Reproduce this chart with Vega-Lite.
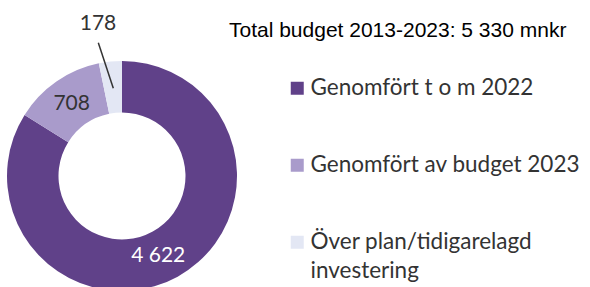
{
  "$schema": "https://vega.github.io/schema/vega-lite/v6.json",
  "width": 244,
  "height": 352,
  "autosize": "none",
  "padding": {"left": 0, "top": 0, "right": 346, "bottom": 0},
  "background": "white",
  "title": {
    "text": "Total budget 2013-2023: 5 330 mnkr",
    "anchor": "start",
    "frame": "group",
    "orient": "top",
    "offset": 0,
    "dx": 229,
    "dy": 58,
    "baseline": "alphabetic",
    "font": "Liberation Sans",
    "fontSize": 21,
    "fontWeight": "normal",
    "color": "#000000"
  },
  "config": {"view": {"stroke": null}},
  "datasets": {
    "slices": [
      {"category": "Genomfört t o m 2022", "value": 4622, "label": "4 622", "i": 1},
      {"category": "Genomfört av budget 2023", "value": 708, "label": "708", "i": 2},
      {"category": "Över plan/tidigarelagd investering", "value": 178, "label": "178", "i": 3}
    ],
    "leader": [
      {"x": -0.206, "y": 1.159, "x2": -0.0757, "y2": 0.763}
    ]
  },
  "layer": [
    {
      "data": {"name": "slices"},
      "mark": {"type": "arc", "innerRadius": 63.5, "outerRadius": 115},
      "encoding": {
        "theta": {"field": "value", "type": "quantitative", "stack": true},
        "order": {"field": "i", "type": "quantitative"},
        "color": {
          "field": "category",
          "type": "nominal",
          "scale": {
            "domain": ["Genomfört t o m 2022", "Genomfört av budget 2023", "Över plan/tidigarelagd investering"],
            "range": ["#604189", "#a99bcb", "#e3e7f4"]
          },
          "legend": {
            "orient": "none",
            "legendX": 286,
            "legendY": 77,
            "title": null,
            "padding": 0,
            "symbolType": "square",
            "symbolSize": 169,
            "symbolStrokeWidth": 0,
            "labelFont": "Lato",
            "labelFontSize": 22.5,
            "labelColor": "#333333",
            "labelOffset": 2,
            "labelLimit": 400,
            "rowPadding": 54,
            "labelExpr": "datum.label == 'Över plan/tidigarelagd investering' ? ['Över plan/tidigarelagd', 'investering'] : datum.label",
            "encode": {"labels": {"update": {"lineHeight": {"value": 29}}}}
          }
        }
      }
    },
    {
      "data": {"name": "slices"},
      "mark": {"type": "text", "radius": 88.2, "font": "Lato", "fontSize": 21, "color": "#333333"},
      "encoding": {
        "theta": {"field": "value", "type": "quantitative", "stack": true},
        "order": {"field": "i", "type": "quantitative"},
        "text": {"condition": {"test": "datum.i == 2", "field": "label"}, "value": ""}
      }
    },
    {
      "data": {"name": "slices"},
      "mark": {"type": "text", "radius": 88, "dx": -6.4, "dy": 3, "font": "Lato", "fontSize": 21, "color": "#ffffff"},
      "encoding": {
        "theta": {"field": "value", "type": "quantitative", "stack": true},
        "order": {"field": "i", "type": "quantitative"},
        "text": {"condition": {"test": "datum.i == 1", "field": "label"}, "value": ""}
      }
    },
    {
      "data": {"name": "slices"},
      "mark": {"type": "text", "radius": 153, "dx": -8.5, "font": "Lato", "fontSize": 21, "color": "#333333"},
      "encoding": {
        "theta": {"field": "value", "type": "quantitative", "stack": true},
        "order": {"field": "i", "type": "quantitative"},
        "text": {"condition": {"test": "datum.i == 3", "field": "label"}, "value": ""}
      }
    },
    {
      "data": {"name": "leader"},
      "mark": {"type": "rule", "color": "#333333", "strokeWidth": 1.5},
      "encoding": {
        "x": {"field": "x", "type": "quantitative", "scale": {"domain": [-1.0609, 1.0609], "nice": false, "zero": false}, "axis": null},
        "y": {"field": "y", "type": "quantitative", "scale": {"domain": [-1.5304, 1.5304], "nice": false, "zero": false}, "axis": null},
        "x2": {"field": "x2"},
        "y2": {"field": "y2"}
      }
    }
  ]
}
